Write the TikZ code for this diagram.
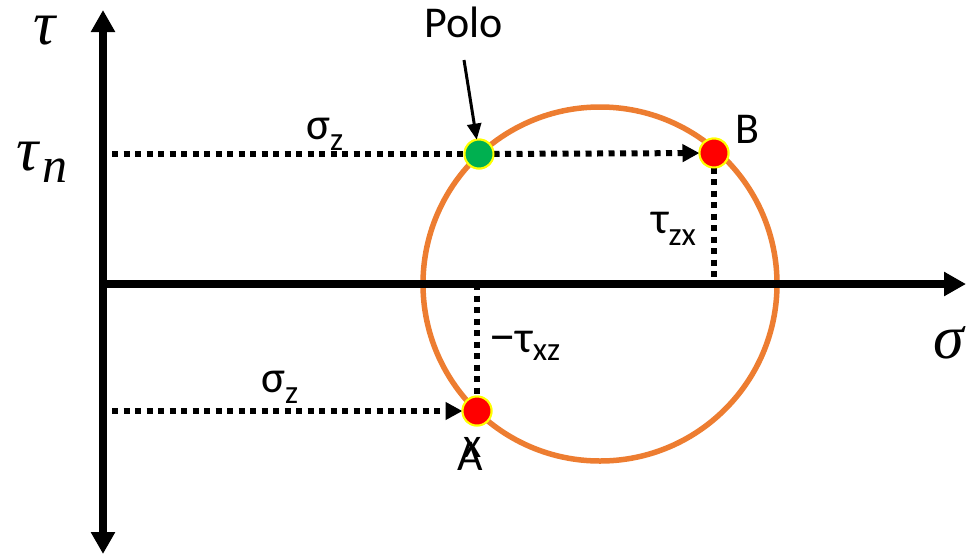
\documentclass[tikz,border=0pt]{standalone}
\usepackage{fontspec}
\usepackage{graphicx}
\usetikzlibrary{arrows.meta}
\newfontfamily\calfont{Carlito}
\newfontfamily\timesfont{Liberation Serif}
\definecolor{circ}{HTML}{ED7D31}
\definecolor{grn}{HTML}{00B050}
\definecolor{ylw}{HTML}{FFFF00}
\newcommand\lowsub[2]{\raisebox{-#1}{\fontsize{33}{33}\selectfont #2}}
\tikzset{bigtip/.tip={Triangle[length=22pt,width=23pt]},
         smalltp/.tip={Triangle[length=17pt,width=17pt]}}
\begin{document}
\begin{tikzpicture}[x=1pt,y=-1pt,
  axisline/.style={line width=8pt},
  dotline/.style={line width=6pt,dash pattern=on 6pt off 5.5pt},
  smalltip/.style={-{smalltp}},
  ptdot/.style={circle,draw=ylw,line width=2pt,minimum size=29pt,inner sep=0pt,outer sep=0pt},
  lbl/.style={inner sep=0pt,font=\calfont\fontsize{45}{45}\selectfont},
  biglbl/.style={inner sep=0pt,font=\calfont\fontsize{44}{44}\selectfont},
  mathlbl/.style={inner sep=0pt,font=\timesfont\itshape\fontsize{62}{62}\selectfont}]
\useasboundingbox (0,0) rectangle (968,555);
% axes coordinates
\coordinate (O) at (103,284);
\coordinate (ytop) at (103,10);
\coordinate (ybot) at (103,554);
\coordinate (xstart) at (99,284);
\coordinate (xend) at (966,284);
\coordinate (ctr) at (600,284);
\coordinate (polotail) at (464,60);
% circle
\draw[circ,line width=5.5pt] (ctr) circle[radius=177pt];
% points
\node[ptdot,fill=grn] (P) at (479,154) {};
\node[ptdot,fill=red] (B) at (714,153) {};
\node[ptdot,fill=red] (A) at (477,411) {};
% dotted connectors
\coordinate (ps) at (112,154);
\coordinate (as) at (112,411);
\draw[dotline] (ps) -- (P);
\draw[dotline,smalltip] (P) -- (B);
\draw[dotline] (B) -- (B|-O);
\draw[dotline] (A|-O) -- (A);
\draw[dotline,smalltip] (as) -- (A);
% axes
\draw[axisline,{bigtip}-{bigtip}] (ybot) -- (ytop);
\draw[axisline,-{bigtip}] (xstart) -- (xend);
% redraw points above lines
\node[ptdot,fill=grn] at (P) {};
\node[ptdot,fill=red] at (B) {};
\node[ptdot,fill=red] at (A) {};
% Polo
\node[biglbl,anchor=base] (polo) at (464,37) {Polo};
\draw[line width=3pt,-{Triangle[length=16pt,width=14pt]}] (polotail) -- (P);
% labels
\node[biglbl,anchor=base west] (blbl) at (735,143) {B};
\node[biglbl,anchor=base west] (albl) at (457,470) {A};
\node[inner sep=0pt,font=\calfont\fontsize{42}{42}\selectfont,anchor=base west] (axlbl) at (463,457) {x};
\node[lbl,anchor=base west] (sz1) at (306,139) {σ\lowsub{11pt}{z}};
\node[lbl,anchor=base west] (sz2) at (261,392) {σ\lowsub{11pt}{z}};
\node[lbl,anchor=base west] (tzx) at (651,233) {τ\lowsub{12pt}{zx}};
\node[lbl,anchor=base west] (txz) at (489,352) {\raisebox{2pt}{\scalebox{1.9}[1]{-}}τ\lowsub{8pt}{xz}};
% axis labels
\node[mathlbl,anchor=base west] (tau) at (33,44) {τ};
\node[mathlbl,anchor=base west] (taun) at (16,170) {τ};
\node[inner sep=0pt,font=\timesfont\itshape\fontsize{50}{50}\selectfont,anchor=base west] (nlbl) at (42,182) {n};
\node[mathlbl,anchor=base west] (sig) at (933,358) {σ};
\end{tikzpicture}
\end{document}
